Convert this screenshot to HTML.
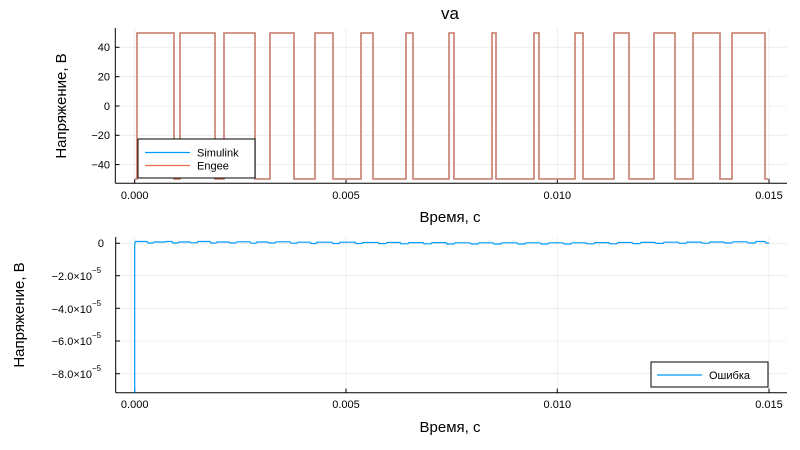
<!DOCTYPE html>
<html><head><meta charset="utf-8"><style>
html,body{margin:0;padding:0;background:#fff;}
svg{display:block;font-family:"Liberation Sans","DejaVu Sans",sans-serif;}
</style></head><body>
<svg width="800" height="450" viewBox="0 0 800 450" xmlns="http://www.w3.org/2000/svg">
<rect width="800" height="450" fill="#fff"/>
<text x="450" y="19" font-size="17" text-anchor="middle" fill="#000">va</text>
<g stroke="#000" stroke-opacity="0.08" stroke-width="0.8">
<line x1="134.7" y1="28" x2="134.7" y2="183"/><line x1="346" y1="28" x2="346" y2="183"/><line x1="557.3" y1="28" x2="557.3" y2="183"/><line x1="769" y1="28" x2="769" y2="183"/>
<line x1="115" y1="47.3" x2="787" y2="47.3"/><line x1="115" y1="76.7" x2="787" y2="76.7"/><line x1="115" y1="106" x2="787" y2="106"/><line x1="115" y1="135.3" x2="787" y2="135.3"/><line x1="115" y1="164.6" x2="787" y2="164.6"/>
</g>
<g stroke="#000" stroke-width="1">
<line x1="115.3" y1="28" x2="115.3" y2="183.3"/><line x1="115.3" y1="183.3" x2="787" y2="183.3"/>
<line x1="134.7" y1="183.3" x2="134.7" y2="179"/><line x1="346" y1="183.3" x2="346" y2="179"/><line x1="557.3" y1="183.3" x2="557.3" y2="179"/><line x1="769" y1="183.3" x2="769" y2="179"/>
<line x1="115.3" y1="47.3" x2="119.5" y2="47.3"/><line x1="115.3" y1="76.7" x2="119.5" y2="76.7"/><line x1="115.3" y1="106" x2="119.5" y2="106"/><line x1="115.3" y1="135.3" x2="119.5" y2="135.3"/><line x1="115.3" y1="164.6" x2="119.5" y2="164.6"/>
</g>
<g font-size="11" fill="#000" text-anchor="end">
<text x="110" y="51">40</text><text x="110" y="80.5">20</text><text x="110" y="110">0</text><text x="110" y="139">−20</text><text x="110" y="168.5">−40</text>
</g>
<g font-size="11" fill="#000" text-anchor="middle">
<text x="134.7" y="199">0.000</text><text x="346" y="199">0.005</text><text x="557.3" y="199">0.010</text><text x="769" y="199">0.015</text>
</g>
<text x="450" y="222" font-size="15" text-anchor="middle">Время, с</text>
<text transform="translate(66,106) rotate(-90)" font-size="15" text-anchor="middle">Напряжение, В</text>
<path d="M134.7 179 L137 179 L137 33 L174 33 L174 179 L180 179 L180 33 L215 33 L215 179 L224 179 L224 33 L255 33 L255 179 L270 179 L270 33 L294 33 L294 179 L315 179 L315 33 L333 33 L333 179 L361 179 L361 33 L373 33 L373 179 L406 179 L406 33 L413 33 L413 179 L449 179 L449 33 L454 33 L454 179 L492 179 L492 33 L496 33 L496 179 L534 179 L534 33 L539 33 L539 179 L575 179 L575 33 L583 33 L583 179 L614 179 L614 33 L629 33 L629 179 L654 179 L654 33 L675 33 L675 179 L693 179 L693 33 L720 33 L720 179 L732 179 L732 33 L765 33 L765 179 L769 179" fill="none" stroke="#b4aec0" stroke-width="1.8"/>
<path d="M134.7 179 L137 179 L137 33 L174 33 L174 179 L180 179 L180 33 L215 33 L215 179 L224 179 L224 33 L255 33 L255 179 L270 179 L270 33 L294 33 L294 179 L315 179 L315 33 L333 33 L333 179 L361 179 L361 33 L373 33 L373 179 L406 179 L406 33 L413 33 L413 179 L449 179 L449 33 L454 33 L454 179 L492 179 L492 33 L496 33 L496 179 L534 179 L534 33 L539 33 L539 179 L575 179 L575 33 L583 33 L583 179 L614 179 L614 33 L629 33 L629 179 L654 179 L654 33 L675 33 L675 179 L693 179 L693 33 L720 33 L720 179 L732 179 L732 33 L765 33 L765 179 L769 179" fill="none" stroke="#e26f46" stroke-width="1"/>
<rect x="138" y="139" width="117" height="39" fill="#fff" stroke="#000" stroke-width="1"/>
<line x1="145" y1="152.5" x2="190" y2="152.5" stroke="#009afa" stroke-width="1.2"/>
<line x1="145" y1="165.5" x2="190" y2="165.5" stroke="#e26f46" stroke-width="1.2"/>
<text x="197" y="156.5" font-size="11">Simulink</text>
<text x="197" y="169.5" font-size="11">Engee</text>

<g stroke="#000" stroke-opacity="0.08" stroke-width="0.8">
<line x1="134.7" y1="237" x2="134.7" y2="392"/><line x1="346" y1="237" x2="346" y2="392"/><line x1="557.3" y1="237" x2="557.3" y2="392"/><line x1="769" y1="237" x2="769" y2="392"/>
<line x1="115.7" y1="243.3" x2="787" y2="243.3"/><line x1="115.7" y1="275.7" x2="787" y2="275.7"/><line x1="115.7" y1="308.3" x2="787" y2="308.3"/><line x1="115.7" y1="341" x2="787" y2="341"/><line x1="115.7" y1="373.7" x2="787" y2="373.7"/>
</g>
<g stroke="#000" stroke-width="1">
<line x1="115.7" y1="237" x2="115.7" y2="392.7"/><line x1="115.7" y1="392.7" x2="787" y2="392.7"/>
<line x1="134.7" y1="392.7" x2="134.7" y2="388.5"/><line x1="346" y1="392.7" x2="346" y2="388.5"/><line x1="557.3" y1="392.7" x2="557.3" y2="388.5"/><line x1="769" y1="392.7" x2="769" y2="388.5"/>
<line x1="115.7" y1="243.3" x2="120" y2="243.3"/><line x1="115.7" y1="275.7" x2="120" y2="275.7"/><line x1="115.7" y1="308.3" x2="120" y2="308.3"/><line x1="115.7" y1="341" x2="120" y2="341"/><line x1="115.7" y1="373.7" x2="120" y2="373.7"/>
</g>
<g font-size="11" fill="#000" text-anchor="end">
<text x="104" y="247">0</text>
<text x="92" y="280">−2.0×10</text><text x="92" y="313">−4.0×10</text><text x="92" y="345">−6.0×10</text><text x="92" y="378">−8.0×10</text>
</g>
<g font-size="8" fill="#000">
<text x="92" y="273">−5</text><text x="92" y="306">−5</text><text x="92" y="338">−5</text><text x="92" y="371">−5</text>
</g>
<g font-size="11" fill="#000" text-anchor="middle">
<text x="134.7" y="408">0.000</text><text x="346" y="408">0.005</text><text x="557.3" y="408">0.010</text><text x="769" y="408">0.015</text>
</g>
<text x="450" y="432" font-size="15" text-anchor="middle">Время, с</text>
<text transform="translate(24,315) rotate(-90)" font-size="15" text-anchor="middle">Напряжение, В</text>
<path d="M134.7 392.7 L134.7 244 L135.5 241.5 L147 241.5 L148 243 L153 243 L154 242 L165 242 L166 241.5 L172 241.5 L173 243 L178 243 L179 242 L190 242 L191 242.8 L197 242.8 L198 241.5 L210 241.5 L211 243 L216 243 L217 242 L229 242 L230 243 L236 243 L237 241.8 L250 241.8 L251 243.2 L256 243.2 L257 242 L268 242 L269 243 L275 243 L276 241.8 L290 241.8 L291 243.2 L297 243.2 L298 242.2 L310 242.2 L311 243.5 L316 243.5 L317 242.2 L332 242.2 L333 243.5 L339 243.5 L340 242.2 L355 242.2 L356 243.5 L362 243.5 L363 242.5 L378 242.5 L379 243.6 L386 243.6 L387 242.5 L400 242.5 L401 243.8 L408 243.8 L409 242.6 L423 242.6 L424 243.8 L431 243.8 L432 242.6 L446 242.6 L447 244 L454 244 L455 242.8 L470 242.8 L471 244 L478 244 L479 242.8 L493 242.8 L494 244 L501 244 L502 242.8 L517 242.8 L518 244 L525 244 L526 242.8 L540 242.8 L541 244 L548 244 L549 242.8 L563 242.8 L564 244 L571 244 L572 242.8 L586 242.8 L587 243.8 L594 243.8 L595 242.6 L609 242.6 L610 243.8 L617 243.8 L618 242.5 L632 242.5 L633 243.6 L640 243.6 L641 242.4 L655 242.4 L656 243.4 L663 243.4 L664 242.2 L678 242.2 L679 243.3 L686 243.3 L687 242.1 L701 242.1 L702 243.2 L709 243.2 L710 242 L724 242 L725 243 L732 243 L733 241.8 L747 241.8 L748 243 L755 243 L756 241.5 L765 241.5 L766 243 L769 243" fill="none" stroke="#009afa" stroke-width="1.2"/>
<rect x="651" y="362" width="117" height="25" fill="#fff" stroke="#000" stroke-width="1"/>
<line x1="657" y1="375" x2="702" y2="375" stroke="#009afa" stroke-width="1.2"/>
<text x="709" y="379" font-size="11">Ошибка</text>
</svg>
</body></html>
